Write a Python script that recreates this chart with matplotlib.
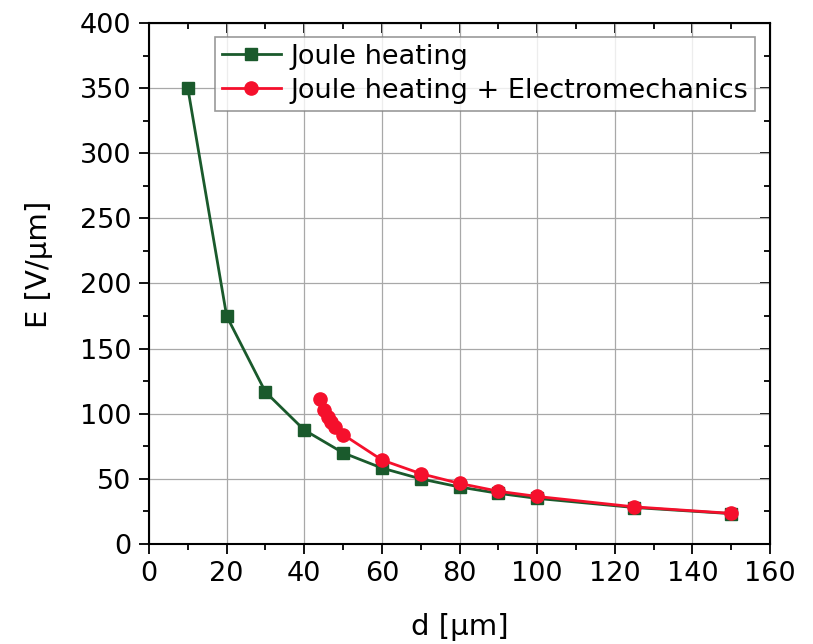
import matplotlib
matplotlib.use("Agg")
import matplotlib.pyplot as plt
from matplotlib.ticker import MultipleLocator

# Joule heating only
d_joule = [10, 20, 30, 40, 50, 60, 70, 80, 90, 100, 125, 150]
E_joule = [350, 175, 116.7, 87.5, 70, 58.3, 50, 43.75, 38.9, 35, 28, 23.3]

# Joule heating + electromechanics
d_em = [44, 45, 46, 47, 48, 50, 60, 70, 80, 90, 100, 125, 150]
E_em = [111, 103, 97.5, 94, 90, 84, 64.5, 54, 46.5, 40.5, 36.5, 28.5, 23.5]

plt.rcParams['font.family'] = 'DejaVu Sans'

fig = plt.figure(figsize=(8.13, 6.44), dpi=100)
ax = fig.add_axes([0.1833, 0.1553, 0.7638, 0.8090])

ax.plot(d_joule, E_joule, color='#1a5a2c', lw=2, marker='s', ms=9,
        label='Joule heating', zorder=3)
ax.plot(d_em, E_em, color='#f5102c', lw=2, marker='o', ms=9.5,
        label='Joule heating + Electromechanics', zorder=4)

ax.set_xlim(0, 160)
ax.set_ylim(0, 400)
ax.xaxis.set_major_locator(MultipleLocator(20))
ax.xaxis.set_minor_locator(MultipleLocator(10))
ax.yaxis.set_major_locator(MultipleLocator(50))
ax.yaxis.set_minor_locator(MultipleLocator(25))

ax.grid(True, which='major', color='#a8a8a8', lw=0.9)
ax.set_axisbelow(True)

for s in ax.spines.values():
    s.set_linewidth(1.5)

ax.tick_params(which='both', direction='out', width=1.3, labelsize=19.5,
               pad=5, top=False, right=False)
ax.tick_params(which='major', length=7.5)
ax.tick_params(which='minor', length=4)

# inward ticks on top and right without labels
ax2 = ax.secondary_xaxis('top')
ax2.xaxis.set_major_locator(MultipleLocator(20))
ax2.xaxis.set_minor_locator(MultipleLocator(10))
ax2.tick_params(which='both', direction='in', width=1.3, labeltop=False)
ax2.tick_params(which='major', length=7.5)
ax2.tick_params(which='minor', length=4)
ax3 = ax.secondary_yaxis('right')
ax3.yaxis.set_major_locator(MultipleLocator(50))
ax3.yaxis.set_minor_locator(MultipleLocator(25))
ax3.tick_params(which='both', direction='in', width=1.3, labelright=False)
ax3.tick_params(which='major', length=7.5)
ax3.tick_params(which='minor', length=4)

ax.set_xlabel('d [μm]', fontsize=21)
ax.xaxis.set_label_coords(0.5, -0.133)
ax.set_ylabel('E [V/μm]', fontsize=21)
ax.yaxis.set_label_coords(-0.155, 0.537)

leg = ax.legend(loc='upper left', bbox_to_anchor=(0.106, 0.973), fontsize=19.5,
                frameon=True, fancybox=False, edgecolor='#808080',
                borderpad=0.25, labelspacing=0.3, handlelength=2.2,
                handletextpad=0.35, borderaxespad=0)
leg.get_frame().set_linewidth(1.2)

fig.savefig('out.png', dpi=100)
